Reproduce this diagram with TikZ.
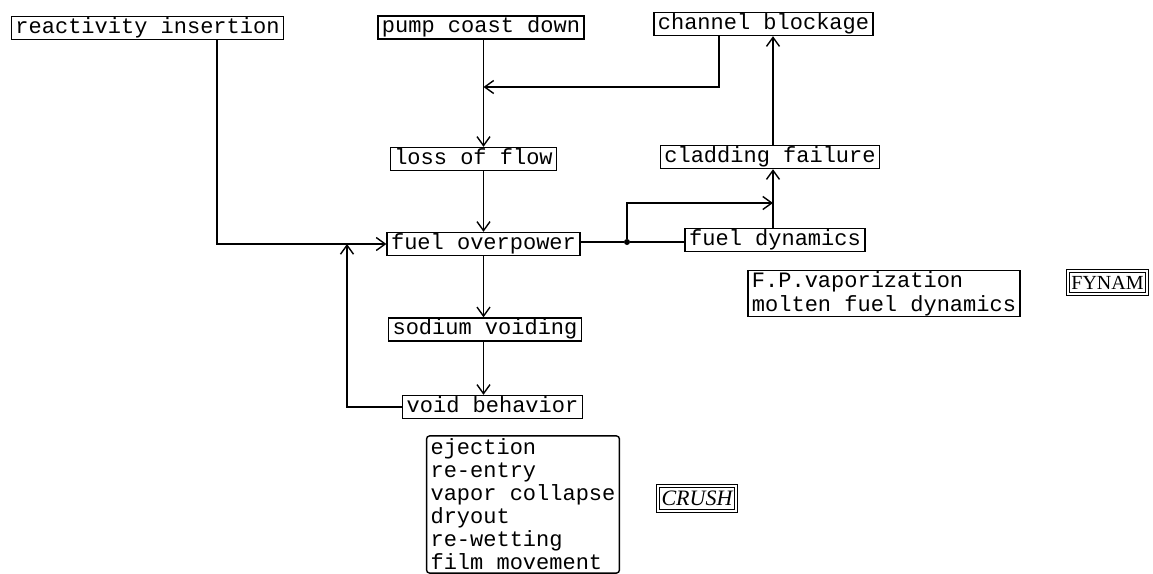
\documentclass[tikz,border=0pt]{standalone}
\usepackage{fontspec}
\setmonofont{Liberation Mono}
\setmainfont{Liberation Serif}
\usetikzlibrary{arrows.meta}
\begin{document}
\begin{tikzpicture}[x=1pt,y=-1pt,
  tw/.style={font=\ttfamily\fontsize{22}{23}\selectfont},
  box/.style={draw, line width=1.4pt, tw, inner xsep=4pt, inner ysep=1.5pt, text height=15pt, text depth=5pt},
  listbox/.style={draw, line width=1.4pt, tw, align=left, inner xsep=4pt, inner ysep=2pt},
  tag/.style={draw, double, line width=1pt, double distance=2pt, inner xsep=3.5pt, inner ysep=4.5pt},
  arr/.style={line width=1.4pt, -{Straight Barb[length=9pt,width=13pt]}},
  ln/.style={line width=1.4pt}]
\useasboundingbox (0,0) rectangle (1153,573);
\fill[white] (0,0) rectangle (1153,573);

\node[box] (ri) at (147.5,28) {reactivity insertion};
\node[box] (pcd) at (481,27.5) {pump coast down};
\node[box] (ch) at (763.5,24) {channel blockage};
\node[box] (loss) at (473.5,159) {loss of flow};
\node[box] (clad) at (770,157) {cladding failure};
\node[box] (fo) at (483.5,244) {fuel overpower};
\node[box] (fd) at (775,240) {fuel dynamics};
\node[box] (sv) at (485,329.5) {sodium voiding};
\node[box] (vb) at (492.5,407) {void behavior};
\node[listbox, font=\ttfamily\fontsize{22}{24}\selectfont, inner ysep=1pt] (fp) at (884,293.5) {F.P.vaporization\\molten fuel dynamics};
\node[tag, font=\fontsize{20}{20}\selectfont, text height=13.5pt, text depth=0.5pt] (fynam) at (1107.5,282.5) {FYNAM};
\node[listbox, rounded corners=3pt, inner ysep=3pt] (ej) at (523,504.5) {ejection\\re-entry\\vapor collapse\\dryout\\re-wetting\\film movement};
\node[tag, font=\itshape\fontsize{22}{22}\selectfont, text height=14.5pt, text depth=1pt] (crush) at (697,498.5) {CRUSH};

\coordinate (cx) at (773,0);
\coordinate (chx) at (719,87);
\coordinate (br) at (773,203);
\coordinate (rc) at (217,244);
\coordinate (fb) at (347,244);
\node[circle, fill, inner sep=0pt, minimum size=6pt] (dot) at (627,242) {};

\draw[arr] (pcd.south -| fo) -- (loss.north -| fo);
\draw[arr] (ch.south -| chx) -- (chx) -- (chx -| fo);
\draw[arr] (loss.south -| fo) -- (fo.north);
\draw[arr] (ri.south -| rc) -- (rc) -- (fo.west);
\draw[arr] (vb.west) -| (fb);
\draw[arr] (fo.south) -- (sv.north -| fo);
\draw[arr] (sv.south -| fo) -- (vb.north -| fo);
\draw[ln] (fo.east |- dot) -- (dot) -- (fd.west |- dot);
\draw[arr] (dot) |- (br);
\draw[arr] (fd.north -| cx) -- (clad.south -| cx);
\draw[arr] (clad.north -| cx) -- (ch.south -| cx);
\end{tikzpicture}
\end{document}
